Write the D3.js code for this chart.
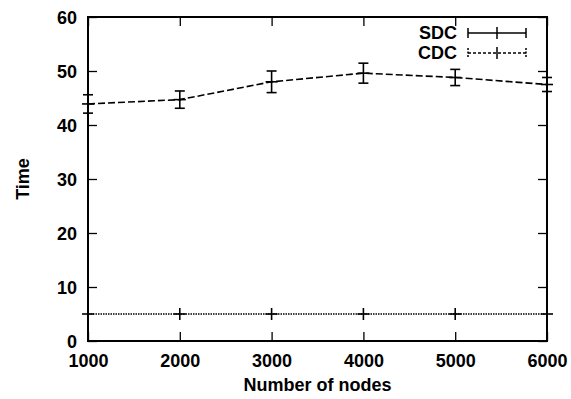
<!DOCTYPE html>
<html><head><meta charset="utf-8">
<script src="https://cdn.jsdelivr.net/npm/d3@7"></script>
<style>html,body{margin:0;padding:0;background:#fff;}</style>
</head><body>
<svg id="c" width="571" height="399"></svg>
<script>
const nodes = [1000, 2000, 3000, 4000, 5000, 6000];
const sdcMean = [43.9, 44.7, 48.0, 49.6, 48.8, 47.5];
const sdcErr  = [1.7, 1.6, 2.0, 1.85, 1.5, 1.3];
const cdcMean = [5.0, 5.0, 5.0, 5.0, 5.0, 5.0];
const yTicks = [0, 10, 20, 30, 40, 50, 60];
const seriesNames = ["SDC", "CDC"];

const svg = d3.select("#c");
const L = 88, R = 547, T = 17, B = 341;
const x = d3.scaleLinear().domain([1000, 6000]).range([L, R]);
const y = d3.scaleLinear().domain([0, 60]).range([B, T]);
const font = "'Liberation Sans', Arial, sans-serif";
const fs = "18px";

// axes with inward ticks
const gx = svg.append("g").attr("transform", `translate(0,${B})`)
  .call(d3.axisBottom(x).tickValues(nodes).tickFormat(d3.format("d")).tickSizeInner(-9).tickSizeOuter(0).tickPadding(13));
const gxt = svg.append("g").attr("transform", `translate(0,${T})`)
  .call(d3.axisTop(x).tickValues(nodes).tickFormat("").tickSizeInner(-9).tickSizeOuter(0));
const gy = svg.append("g").attr("transform", `translate(${L},0)`)
  .call(d3.axisLeft(y).tickValues(yTicks).tickSizeInner(-9).tickSizeOuter(0).tickPadding(11));
const gyr = svg.append("g").attr("transform", `translate(${R},0)`)
  .call(d3.axisRight(y).tickValues(yTicks).tickFormat("").tickSizeInner(-9).tickSizeOuter(0));
[gx, gxt, gy, gyr].forEach(g => {
  g.select(".domain").remove();
  g.selectAll(".tick line").attr("stroke", "#000").attr("stroke-width", 1.3);
  g.selectAll("text").attr("fill", "#000").style("font-family", font)
    .style("font-weight", "bold").style("font-size", fs);
});
gy.selectAll("text").attr("dy", "0.35em");

// frame
svg.append("rect").attr("x", L).attr("y", T).attr("width", R - L).attr("height", B - T)
  .attr("fill", "none").attr("stroke", "#000").attr("stroke-width", 2);

// SDC dashed line
const line = d3.line().x((d, i) => x(nodes[i])).y(d => y(d));
svg.append("path").datum(sdcMean).attr("d", line).attr("fill", "none")
  .attr("stroke", "#000").attr("stroke-width", 1.6).attr("stroke-dasharray", "7,3");
// error bars
const eb = svg.append("g").attr("stroke", "#000").attr("stroke-width", 1.6);
sdcMean.forEach((m, i) => {
  const cx = x(nodes[i]), y0 = y(m - sdcErr[i]), y1 = y(m + sdcErr[i]);
  eb.append("line").attr("x1", cx).attr("x2", cx).attr("y1", y0).attr("y2", y1);
  eb.append("line").attr("x1", cx - 5).attr("x2", cx + 5).attr("y1", y0).attr("y2", y0);
  eb.append("line").attr("x1", cx - 5).attr("x2", cx + 5).attr("y1", y1).attr("y2", y1);
  eb.append("line").attr("x1", cx - 6).attr("x2", cx + 6).attr("y1", y(m)).attr("y2", y(m));
});

// CDC dotted line
svg.append("path").datum(cdcMean).attr("d", line).attr("fill", "none")
  .attr("stroke", "#000").attr("stroke-width", 1.3).attr("stroke-dasharray", "1.5,1");
const pts = svg.append("g").attr("stroke", "#000").attr("stroke-width", 1.6);
cdcMean.forEach((m, i) => {
  const cx = x(nodes[i]), cy = y(m);
  pts.append("line").attr("x1", cx - 6).attr("x2", cx + 6).attr("y1", cy).attr("y2", cy);
  pts.append("line").attr("x1", cx).attr("x2", cx).attr("y1", cy - 6).attr("y2", cy + 6);
});

// legend
const leg = svg.append("g");
seriesNames.forEach((name, i) => {
  const ly = 33 + i * 20;
  leg.append("text").attr("x", 457).attr("y", ly).attr("dy", "0.35em")
    .attr("text-anchor", "end").style("font-family", font).style("font-weight", "bold")
    .style("font-size", fs).text(name);
  const g = leg.append("g").attr("stroke", "#000").attr("stroke-width", 1.5);
  g.append("line").attr("x1", 468).attr("x2", 526).attr("y1", ly).attr("y2", ly)
    .attr("stroke-dasharray", i === 0 ? null : "3,2");
  [468, 526].forEach(ex => g.append("line").attr("x1", ex).attr("x2", ex)
    .attr("y1", ly - 5).attr("y2", ly + 5).attr("stroke-dasharray", i === 0 ? null : "2,1.5"));
  g.append("line").attr("x1", 497).attr("x2", 497).attr("y1", ly - 6).attr("y2", ly + 6);
});

// axis titles
svg.append("text").attr("x", (L + R) / 2).attr("y", 385).attr("dy", "0.35em")
  .attr("text-anchor", "middle").style("font-family", font).style("font-weight", "bold")
  .style("font-size", fs).text("Number of nodes");
svg.append("text").attr("transform", `translate(23,${(T + B) / 2}) rotate(-90)`)
  .attr("dy", "0.35em").attr("text-anchor", "middle").style("font-family", font)
  .style("font-weight", "bold").style("font-size", fs).text("Time");
</script>
</body></html>
